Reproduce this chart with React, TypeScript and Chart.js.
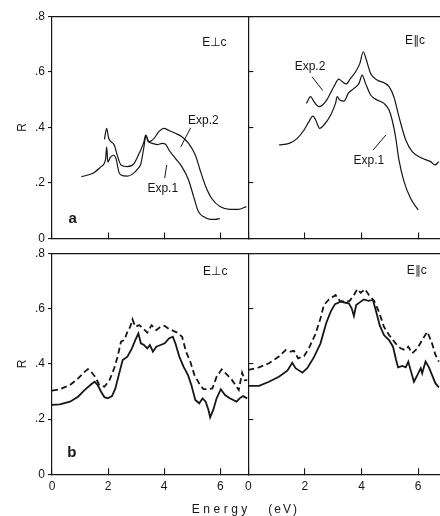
import React, { useEffect, useRef } from "react";
import { Chart, registerables } from "chart.js";

Chart.register(...registerables);

const INK = "#161616";
const FONT = "'Liberation Sans', Arial, 'DejaVu Sans', sans-serif";
const W = 440;
const H = 516;

// ---------- axes ----------
const xTickValues = [0, 2, 4, 6];
const yTickValues = [0, 0.2, 0.4, 0.6, 0.8];
const xMaxLeft = 7;
const xMaxRight = 6.77;

// ---------- (a) E⊥c ----------
const aPerpExp1E = [1.05, 1.46, 1.75, 1.91, 1.95, 1.99, 2.08, 2.2, 2.29, 2.38, 2.46, 2.69, 2.87, 3.05, 3.17, 3.28, 3.35, 3.43, 3.58, 3.75, 3.93, 4.05, 4.17, 4.4, 4.63, 4.87, 5.05, 5.22, 5.4, 5.64, 5.82, 5.99];
const aPerpExp1R = [0.223, 0.235, 0.259, 0.285, 0.33, 0.275, 0.292, 0.3, 0.285, 0.241, 0.229, 0.225, 0.232, 0.25, 0.27, 0.331, 0.372, 0.349, 0.343, 0.338, 0.343, 0.34, 0.319, 0.289, 0.259, 0.211, 0.151, 0.097, 0.079, 0.069, 0.069, 0.072];
const aPerpExp2E = [1.87, 1.95, 2.02, 2.22, 2.34, 2.46, 2.69, 2.93, 3.11, 3.28, 3.34, 3.46, 3.64, 3.81, 3.99, 4.17, 4.4, 4.63, 4.87, 5.11, 5.28, 5.46, 5.69, 5.99, 6.34, 6.64, 6.93];
const aPerpExp2R = [0.357, 0.397, 0.361, 0.337, 0.295, 0.265, 0.259, 0.271, 0.307, 0.349, 0.373, 0.349, 0.361, 0.385, 0.397, 0.389, 0.379, 0.367, 0.343, 0.301, 0.247, 0.193, 0.145, 0.115, 0.105, 0.105, 0.115];

// ---------- (a) E∥c ----------
const aParExp1E = [1.08, 1.44, 1.73, 1.97, 2.14, 2.28, 2.38, 2.52, 2.67, 2.91, 3.08, 3.14, 3.23, 3.38, 3.53, 3.73, 3.91, 4.02, 4.14, 4.32, 4.55, 4.79, 4.97, 5.08, 5.2, 5.32, 5.5, 5.73, 6.0];
const aParExp1R = [0.337, 0.343, 0.361, 0.391, 0.421, 0.441, 0.427, 0.397, 0.409, 0.445, 0.487, 0.511, 0.499, 0.495, 0.523, 0.541, 0.559, 0.589, 0.559, 0.517, 0.499, 0.487, 0.463, 0.427, 0.367, 0.283, 0.205, 0.145, 0.103];
const aParExp2E = [2.05, 2.2, 2.32, 2.5, 2.73, 3.02, 3.2, 3.32, 3.46, 3.61, 3.79, 3.94, 4.06, 4.17, 4.32, 4.55, 4.79, 4.97, 5.14, 5.32, 5.56, 5.79, 6.14, 6.44, 6.59, 6.73];
const aParExp2R = [0.487, 0.511, 0.493, 0.475, 0.493, 0.547, 0.574, 0.565, 0.557, 0.577, 0.601, 0.631, 0.673, 0.643, 0.595, 0.571, 0.561, 0.547, 0.511, 0.439, 0.355, 0.313, 0.289, 0.277, 0.265, 0.277];

// ---------- (b) E⊥c ----------
const bPerpSolidE = [0, 0.28, 0.64, 0.93, 1.16, 1.4, 1.52, 1.63, 1.75, 1.87, 1.99, 2.14, 2.26, 2.38, 2.52, 2.69, 2.85, 2.97, 3.08, 3.17, 3.28, 3.4, 3.49, 3.6, 3.72, 3.87, 4.02, 4.17, 4.31, 4.4, 4.54, 4.69, 4.85, 4.97, 5.11, 5.25, 5.37, 5.48, 5.58, 5.64, 5.75, 5.87, 6.02, 6.17, 6.34, 6.58, 6.69, 6.81, 6.96];
const bPerpSolidR = [0.251, 0.253, 0.263, 0.281, 0.305, 0.326, 0.335, 0.323, 0.299, 0.279, 0.275, 0.283, 0.311, 0.359, 0.414, 0.426, 0.456, 0.486, 0.51, 0.474, 0.468, 0.456, 0.468, 0.444, 0.462, 0.468, 0.474, 0.492, 0.498, 0.474, 0.426, 0.39, 0.359, 0.323, 0.269, 0.257, 0.275, 0.263, 0.233, 0.206, 0.233, 0.275, 0.308, 0.287, 0.275, 0.263, 0.275, 0.283, 0.275];
const bPerpDashE = [0, 0.28, 0.64, 0.93, 1.16, 1.28, 1.4, 1.55, 1.69, 1.87, 2.05, 2.22, 2.34, 2.46, 2.58, 2.69, 2.79, 2.87, 2.97, 3.11, 3.25, 3.4, 3.55, 3.72, 3.87, 4.02, 4.19, 4.31, 4.46, 4.64, 4.78, 4.93, 5.08, 5.28, 5.4, 5.58, 5.72, 5.87, 6.05, 6.22, 6.4, 6.58, 6.66, 6.78, 6.87, 6.96];
const bPerpDashR = [0.303, 0.308, 0.323, 0.347, 0.371, 0.381, 0.371, 0.351, 0.323, 0.317, 0.341, 0.384, 0.426, 0.48, 0.486, 0.516, 0.534, 0.561, 0.534, 0.54, 0.528, 0.513, 0.54, 0.522, 0.534, 0.537, 0.525, 0.52, 0.513, 0.498, 0.444, 0.408, 0.359, 0.323, 0.308, 0.308, 0.311, 0.353, 0.38, 0.363, 0.344, 0.317, 0.305, 0.368, 0.341, 0.341];

// ---------- (b) E∥c ----------
const bParSolidE = [0, 0.38, 0.73, 1.08, 1.38, 1.55, 1.67, 1.91, 2.08, 2.32, 2.55, 2.75, 2.91, 3.06, 3.26, 3.44, 3.55, 3.65, 3.73, 3.81, 3.97, 4.08, 4.24, 4.4, 4.5, 4.64, 4.79, 4.97, 5.11, 5.22, 5.29, 5.44, 5.56, 5.65, 5.73, 5.85, 5.97, 6.09, 6.14, 6.26, 6.38, 6.49, 6.61, 6.73];
const bParSolidR = [0.32, 0.32, 0.335, 0.353, 0.375, 0.404, 0.384, 0.368, 0.384, 0.424, 0.474, 0.547, 0.589, 0.616, 0.625, 0.621, 0.619, 0.601, 0.573, 0.613, 0.625, 0.633, 0.628, 0.631, 0.595, 0.54, 0.504, 0.486, 0.462, 0.414, 0.387, 0.392, 0.387, 0.408, 0.378, 0.335, 0.359, 0.384, 0.366, 0.408, 0.387, 0.359, 0.329, 0.315];
const bParDashE = [0, 0.38, 0.73, 1.08, 1.32, 1.5, 1.61, 1.76, 1.97, 2.14, 2.38, 2.55, 2.67, 2.85, 3.08, 3.23, 3.44, 3.58, 3.73, 3.85, 3.97, 4.12, 4.26, 4.44, 4.61, 4.79, 4.97, 5.2, 5.38, 5.53, 5.65, 5.79, 5.97, 6.14, 6.32, 6.47, 6.61, 6.73];
const bParDashR = [0.378, 0.387, 0.402, 0.426, 0.45, 0.444, 0.447, 0.42, 0.428, 0.456, 0.51, 0.565, 0.613, 0.633, 0.649, 0.628, 0.625, 0.628, 0.649, 0.67, 0.657, 0.67, 0.649, 0.628, 0.589, 0.534, 0.504, 0.474, 0.456, 0.45, 0.462, 0.438, 0.456, 0.486, 0.516, 0.48, 0.432, 0.408];

// ---------- annotations (data coordinates) ----------
const perpLabel = "E⊥c";
const parLabel = "E∥c";
const exp1Label = "Exp.1";
const exp2Label = "Exp.2";
const xTitleParts = ["Energy", "(eV)"];
const yTitle = "R";

type Item = { text: string; x: number; y: number; font?: string; align?: CanvasTextAlign };
type Series = { e: number[]; r: number[]; dashed?: boolean };
type PanelSpec = {
  series: Series[];
  leaders: number[][][];
  items: Item[];
  isLeft: boolean;
  isBottom: boolean;
  xMax: number;
  box: { left: number; top: number; right: number; bottom: number };
  axisTitle?: string[];
};

const LABEL_FONT = `12px ${FONT}`;
const BOLD_FONT = `bold 15px ${FONT}`;

const textPlugin = {
  id: "panelText",
  afterDraw(chart: any, _a: any, opts: any) {
    const { ctx, scales } = chart;
    const xs = scales.x;
    const ys = scales.y;
    ctx.save();
    ctx.fillStyle = INK;
    ctx.textBaseline = "middle";
    for (const it of opts.items || []) {
      ctx.font = it.font || LABEL_FONT;
      ctx.textAlign = it.align || "center";
      ctx.fillText(it.text, xs.getPixelForValue(it.x), ys.getPixelForValue(it.y));
    }
    if (opts.axisTitle) {
      const ty = xs.top + 35;
      ctx.font = `12px ${FONT}`;
      ctx.letterSpacing = "3.5px";
      ctx.textAlign = "right";
      ctx.fillText(opts.axisTitle[0], xs.right + 2.5, ty);
      ctx.letterSpacing = "2px";
      ctx.textAlign = "left";
      ctx.fillText(opts.axisTitle[1], xs.right + 20, ty);
      ctx.letterSpacing = "0px";
    }
    ctx.restore();
  },
};

const PANELS: PanelSpec[] = [
  {
    series: [
      { e: aPerpExp1E, r: aPerpExp1R },
      { e: aPerpExp2E, r: aPerpExp2R },
    ],
    leaders: [
      [[4.94, 0.398], [4.59, 0.33]],
      [[4.09, 0.265], [4.02, 0.218]],
    ],
    items: [
      { text: perpLabel, x: 5.79, y: 0.705 },
      { text: exp2Label, x: 5.4, y: 0.423 },
      { text: exp1Label, x: 3.95, y: 0.178 },
      { text: "a", x: 0.74, y: 0.07, font: BOLD_FONT },
    ],
    isLeft: true,
    isBottom: false,
    xMax: xMaxLeft,
    box: { left: 52, top: 16.5, right: 248.3, bottom: 238.5 },
  },
  {
    series: [
      { e: aParExp1E, r: aParExp1R },
      { e: aParExp2E, r: aParExp2R },
    ],
    leaders: [
      [[2.25, 0.583], [2.63, 0.533]],
      [[4.41, 0.319], [4.86, 0.373]],
    ],
    items: [
      { text: parLabel, x: 5.89, y: 0.712 },
      { text: exp2Label, x: 2.18, y: 0.618 },
      { text: exp1Label, x: 4.26, y: 0.279 },
    ],
    isLeft: false,
    isBottom: false,
    xMax: xMaxRight,
    box: { left: 248.3, top: 16.5, right: 440, bottom: 238.5 },
  },
  {
    series: [
      { e: bPerpSolidE, r: bPerpSolidR },
      { e: bPerpDashE, r: bPerpDashR, dashed: true },
    ],
    leaders: [],
    items: [
      { text: perpLabel, x: 5.82, y: 0.732 },
      { text: "b", x: 0.71, y: 0.077, font: BOLD_FONT },
    ],
    isLeft: true,
    isBottom: true,
    xMax: xMaxLeft,
    box: { left: 52, top: 253.3, right: 248.3, bottom: 474.3 },
    axisTitle: xTitleParts,
  },
  {
    series: [
      { e: bParSolidE, r: bParSolidR },
      { e: bParDashE, r: bParDashR, dashed: true },
    ],
    leaders: [],
    items: [{ text: parLabel, x: 5.95, y: 0.736 }],
    isLeft: false,
    isBottom: true,
    xMax: xMaxRight,
    box: { left: 248.3, top: 253.3, right: 440, bottom: 474.3 },
  },
];

function fmtY(v: number) {
  if (Math.abs(v) < 1e-9) return "0";
  return "." + Math.round(v * 10);
}

function makeConfig(p: PanelSpec): any {
  const datasets: any[] = [
    ...p.series.map((s) => ({
      data: s.e.map((e, i) => ({ x: e, y: s.r[i] })),
      borderColor: INK,
      borderWidth: p.isBottom ? 1.8 : 1.2,
      borderDash: s.dashed ? [6, 3.5] : [],
      pointRadius: 0,
      fill: false,
      cubicInterpolationMode: p.isBottom ? "default" : "monotone",
      tension: 0,
      xAxisID: "x",
      yAxisID: "y",
    })),
    ...p.leaders.map((l) => ({
      data: l.map(([x, y]) => ({ x, y })),
      borderColor: INK,
      borderWidth: 1,
      pointRadius: 0,
      fill: false,
      xAxisID: "x",
      yAxisID: "y",
    })),
  ];
  const ySize = p.isLeft ? p.box.left : 0;
  const xSize = p.isBottom ? H - p.box.bottom : 0;
  return {
    type: "line",
    data: { datasets },
    options: {
      animation: false,
      responsive: false,
      events: [],
      layout: {
        padding: {
          left: p.box.left - ySize,
          top: p.box.top,
          right: W - p.box.right,
          bottom: H - p.box.bottom - xSize,
        },
      },
      plugins: {
        legend: { display: false },
        tooltip: { enabled: false },
        panelText: { items: p.items, axisTitle: p.axisTitle },
      },
      scales: {
        x: {
          type: "linear",
          position: "bottom",
          min: 0,
          max: p.xMax,
          afterBuildTicks: (s: any) => {
            s.ticks = xTickValues.map((v) => ({ value: v }));
          },
          afterFit: (s: any) => {
            s.height = xSize;
          },
          ticks: {
            display: p.isBottom,
            padding: 11.5,
            color: INK,
            font: { family: FONT, size: 12 },
            callback: (v: any) => String(v),
          },
          grid: { drawOnChartArea: false, drawTicks: true, tickLength: -6, color: INK, lineWidth: 1.1 },
          border: { display: true, color: INK, width: 1.2 },
        },
        xTop: {
          type: "linear",
          axis: "x",
          position: "top",
          min: 0,
          max: p.xMax,
          afterFit: (s: any) => {
            s.height = 0;
          },
          ticks: { display: false },
          grid: { display: false },
          border: { display: true, color: INK, width: 1.2 },
        },
        y: {
          type: "linear",
          position: "left",
          min: 0,
          max: 0.8,
          afterBuildTicks: (s: any) => {
            s.ticks = yTickValues.map((v) => ({ value: v }));
          },
          afterFit: (s: any) => {
            s.width = ySize;
          },
          ticks: {
            display: p.isLeft,
            padding: 3,
            color: INK,
            font: { family: FONT, size: 12 },
            callback: (v: any) => fmtY(Number(v)),
          },
          grid: {
            drawOnChartArea: false,
            drawTicks: true,
            tickLength: p.isLeft ? 4 : -5,
            color: INK,
            lineWidth: 1.1,
          },
          border: { display: true, color: INK, width: 1.2 },
          title: {
            display: p.isLeft,
            text: yTitle,
            color: INK,
            font: { family: FONT, size: 12 },
            padding: { top: 15, bottom: 0 },
          },
        },
      },
    },
    plugins: [textPlugin],
  };
}

function Panel({ spec }: { spec: PanelSpec }) {
  const ref = useRef<HTMLCanvasElement | null>(null);
  useEffect(() => {
    if (!ref.current) return;
    const chart = new Chart(ref.current, makeConfig(spec));
    return () => chart.destroy();
  }, [spec]);
  return (
    <canvas
      ref={ref}
      width={W}
      height={H}
      style={{ position: "absolute", left: 0, top: 0, width: W, height: H }}
    />
  );
}

export default function App() {
  return (
    <div
      style={{
        position: "absolute",
        left: 0,
        top: 0,
        width: W,
        height: H,
        background: "#ffffff",
        overflow: "hidden",
      }}
    >
      {PANELS.map((p, i) => (
        <Panel key={i} spec={p} />
      ))}
    </div>
  );
}
